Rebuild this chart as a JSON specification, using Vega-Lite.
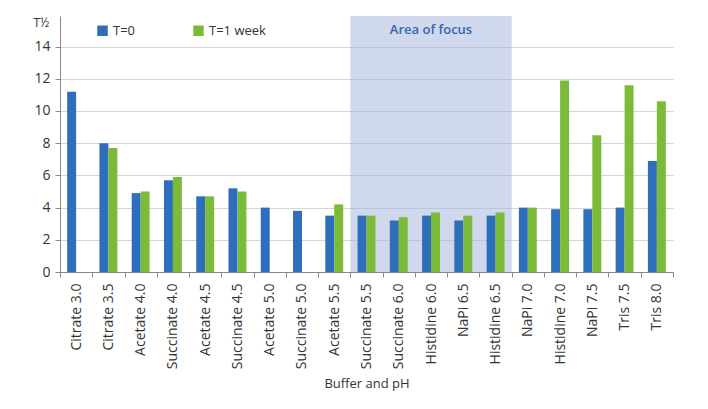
{
  "$schema": "https://vega.github.io/schema/vega-lite/v6.json",
  "width": 613,
  "height": 256,
  "autosize": {"type": "none"},
  "padding": {"left": 60, "top": 16, "right": 35, "bottom": 137},
  "background": "white",
  "config": {"view": {"stroke": null}, "font": "Open Sans"},
  "datasets": {
    "bars": [
      {"buffer": "Citrate 3.0", "series": "T=0", "value": 11.2},
      {"buffer": "Citrate 3.5", "series": "T=0", "value": 8.0},
      {"buffer": "Citrate 3.5", "series": "T=1 week", "value": 7.7},
      {"buffer": "Acetate 4.0", "series": "T=0", "value": 4.9},
      {"buffer": "Acetate 4.0", "series": "T=1 week", "value": 5.0},
      {"buffer": "Succinate 4.0", "series": "T=0", "value": 5.7},
      {"buffer": "Succinate 4.0", "series": "T=1 week", "value": 5.9},
      {"buffer": "Acetate 4.5", "series": "T=0", "value": 4.7},
      {"buffer": "Acetate 4.5", "series": "T=1 week", "value": 4.7},
      {"buffer": "Succinate 4.5", "series": "T=0", "value": 5.2},
      {"buffer": "Succinate 4.5", "series": "T=1 week", "value": 5.0},
      {"buffer": "Acetate 5.0", "series": "T=0", "value": 4.0},
      {"buffer": "Succinate 5.0", "series": "T=0", "value": 3.8},
      {"buffer": "Acetate 5.5", "series": "T=0", "value": 3.5},
      {"buffer": "Acetate 5.5", "series": "T=1 week", "value": 4.2},
      {"buffer": "Succinate 5.5", "series": "T=0", "value": 3.5},
      {"buffer": "Succinate 5.5", "series": "T=1 week", "value": 3.5},
      {"buffer": "Succinate 6.0", "series": "T=0", "value": 3.2},
      {"buffer": "Succinate 6.0", "series": "T=1 week", "value": 3.4},
      {"buffer": "Histidine 6.0", "series": "T=0", "value": 3.5},
      {"buffer": "Histidine 6.0", "series": "T=1 week", "value": 3.7},
      {"buffer": "NaPi 6.5", "series": "T=0", "value": 3.2},
      {"buffer": "NaPi 6.5", "series": "T=1 week", "value": 3.5},
      {"buffer": "Histidine 6.5", "series": "T=0", "value": 3.5},
      {"buffer": "Histidine 6.5", "series": "T=1 week", "value": 3.7},
      {"buffer": "NaPi 7.0", "series": "T=0", "value": 4.0},
      {"buffer": "NaPi 7.0", "series": "T=1 week", "value": 4.0},
      {"buffer": "Histidine 7.0", "series": "T=0", "value": 3.9},
      {"buffer": "Histidine 7.0", "series": "T=1 week", "value": 11.9},
      {"buffer": "NaPi 7.5", "series": "T=0", "value": 3.9},
      {"buffer": "NaPi 7.5", "series": "T=1 week", "value": 8.5},
      {"buffer": "Tris 7.5", "series": "T=0", "value": 4.0},
      {"buffer": "Tris 7.5", "series": "T=1 week", "value": 11.6},
      {"buffer": "Tris 8.0", "series": "T=0", "value": 6.9},
      {"buffer": "Tris 8.0", "series": "T=1 week", "value": 10.6}
    ],
    "focus": [{"start": "Succinate 5.5", "end": "Histidine 6.5", "center": "Histidine 6.0", "bottom": 0, "top": 15.9, "labelY": 15, "text": "Area of focus"}]
  },
  "layer": [
    {
      "data": {"name": "focus"},
      "mark": {"type": "rect", "color": "#9fb1d9", "opacity": 0.5},
      "encoding": {
        "x": {
          "field": "start",
          "type": "nominal",
          "bandPosition": 0,
          "scale": {
            "domain": ["Citrate 3.0", "Citrate 3.5", "Acetate 4.0", "Succinate 4.0", "Acetate 4.5", "Succinate 4.5", "Acetate 5.0", "Succinate 5.0", "Acetate 5.5", "Succinate 5.5", "Succinate 6.0", "Histidine 6.0", "NaPi 6.5", "Histidine 6.5", "NaPi 7.0", "Histidine 7.0", "NaPi 7.5", "Tris 7.5", "Tris 8.0"],
            "paddingInner": 0,
            "paddingOuter": 0
          },
          "axis": {
            "title": "Buffer and pH",
            "titleFontSize": 13,
            "titleFontWeight": "normal",
            "titleColor": "#333",
            "titlePadding": 9,
            "labelAngle": -90,
            "labelFontSize": 14,
            "labelColor": "#333",
            "labelPadding": 6,
            "tickBand": "extent",
            "tickSize": 5,
            "tickColor": "#888",
            "domainColor": "#888",
            "grid": false
          }
        },
        "x2": {"field": "end", "bandPosition": 1},
        "y": {
          "field": "bottom",
          "type": "quantitative",
          "scale": {"domain": [0, 15.9], "nice": false},
          "axis": {
            "values": [0, 2, 4, 6, 8, 10, 12, 14],
            "tickCount": 20,
            "labelOverlap": false,
            "title": "T½",
            "titleAngle": 0,
            "titleAlign": "left",
            "titleBaseline": "middle",
            "titleX": -27,
            "titleY": 6,
            "titleFontSize": 12,
            "titleFontWeight": "normal",
            "titleColor": "#333",
            "labelFontSize": 14,
            "labelColor": "#333",
            "labelPadding": 5,
            "tickSize": 5,
            "tickColor": "#888",
            "domainColor": "#888",
            "gridColor": "#d6d6d6"
          }
        },
        "y2": {"field": "top"}
      }
    },
    {
      "data": {"name": "focus"},
      "mark": {"type": "text", "color": "#3566ad", "fontSize": 13, "fontWeight": 600, "baseline": "middle"},
      "encoding": {
        "x": {"field": "center", "type": "nominal"},
        "y": {"field": "labelY", "type": "quantitative"},
        "text": {"field": "text"}
      }
    },
    {
      "data": {"name": "bars"},
      "mark": {"type": "bar"},
      "encoding": {
        "x": {"field": "buffer", "type": "nominal"},
        "xOffset": {
          "field": "series",
          "type": "nominal",
          "scale": {"domain": ["T=0", "T=1 week"], "paddingInner": 0, "paddingOuter": 0.8}
        },
        "y": {"field": "value", "type": "quantitative"},
        "color": {
          "field": "series",
          "type": "nominal",
          "scale": {"domain": ["T=0", "T=1 week"], "range": ["#2e6eba", "#7cbb3a"]},
          "legend": {
            "orient": "none",
            "legendX": 36,
            "legendY": 8,
            "direction": "horizontal",
            "title": null,
            "symbolType": "square",
            "symbolSize": 110,
            "symbolStrokeWidth": 0,
            "labelFontSize": 13,
            "labelColor": "#333",
            "columnPadding": 56
          }
        }
      }
    }
  ]
}
